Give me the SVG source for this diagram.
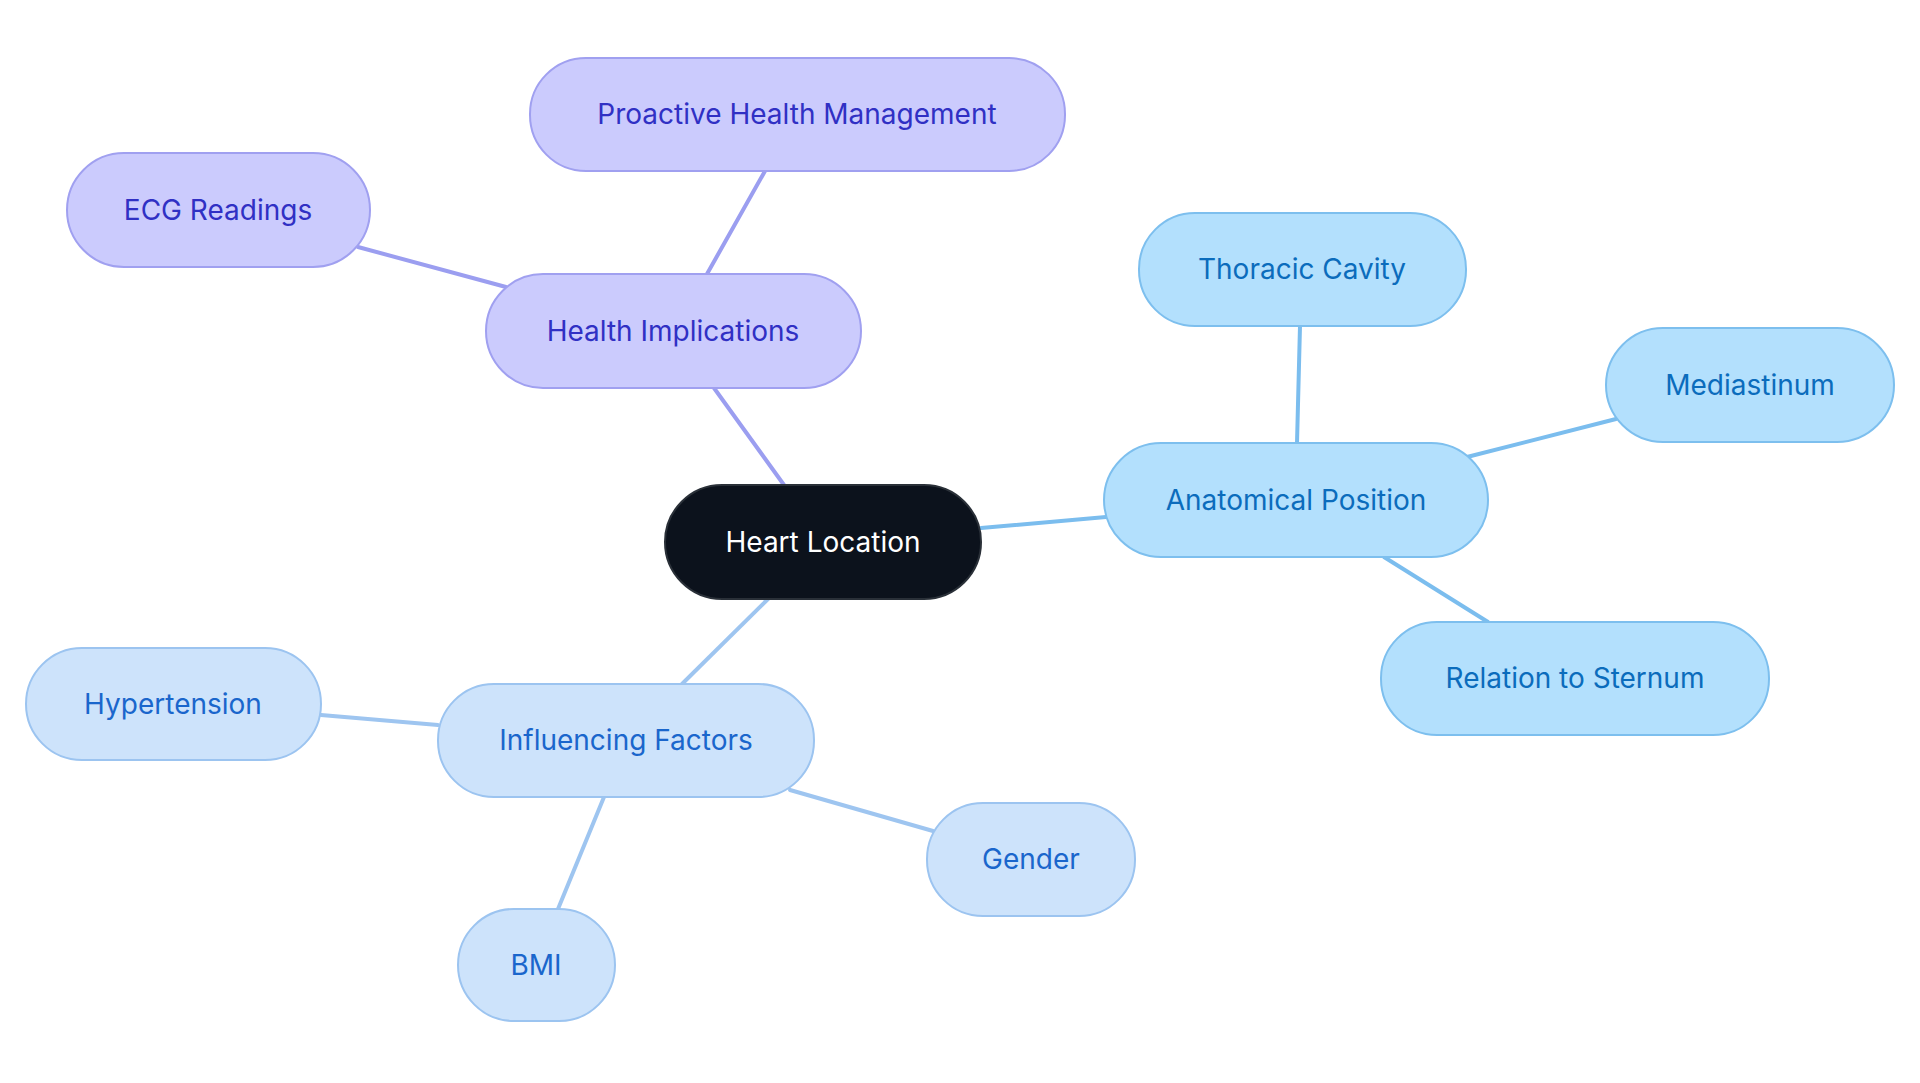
<svg xmlns="http://www.w3.org/2000/svg" width="1920" height="1083" viewBox="0 0 1920 1083">
<style>
text{font-family:Inter,"Noto Sans",sans-serif;font-size:28px;text-anchor:middle;dominant-baseline:central}
.p rect{fill:#cbcbfd;stroke:#a0a0f0;stroke-width:2}.p text{fill:#3030c4}
.b rect{fill:#b3e0fd;stroke:#7dbfee;stroke-width:2}.b text{fill:#0b6cbc}
.l rect{fill:#cde3fb;stroke:#9cc4f0;stroke-width:2}.l text{fill:#1a66cc}
.c line{stroke-width:4;stroke-linecap:round}
</style>
<rect width="1920" height="1083" fill="#fff"/>
<g class="c">
<line x1="784" y1="485" x2="714" y2="388" stroke="#9b9ef0"/>
<line x1="707" y1="274" x2="765" y2="171" stroke="#9b9ef0"/>
<line x1="506" y1="287" x2="358" y2="247" stroke="#9b9ef0"/>
<line x1="981" y1="528" x2="1106" y2="517" stroke="#7bbdee"/>
<line x1="1297" y1="443" x2="1300" y2="326" stroke="#7bbdee"/>
<line x1="1467" y1="457" x2="1616" y2="419" stroke="#7bbdee"/>
<line x1="1384" y1="557" x2="1488" y2="622" stroke="#7bbdee"/>
<line x1="768" y1="599" x2="682" y2="684" stroke="#9ec5f0"/>
<line x1="438" y1="725" x2="321" y2="715" stroke="#9ec5f0"/>
<line x1="790" y1="790" x2="933" y2="831" stroke="#9ec5f0"/>
<line x1="604" y1="797" x2="558" y2="909" stroke="#9ec5f0"/>
</g>
<g id="heart"><rect x="665" y="485" width="316" height="114" rx="57" fill="#0c121c" stroke="#2a3038" stroke-width="2"/><text x="823" y="542" fill="#fff">Heart Location</text></g>
<g id="anat" class="b"><rect x="1104" y="443" width="384" height="114" rx="57"/><text x="1296" y="500">Anatomical Position</text></g>
<g id="thor" class="b"><rect x="1139" y="213" width="327" height="113" rx="56"/><text x="1302" y="269">Thoracic Cavity</text></g>
<g id="medi" class="b"><rect x="1606" y="328" width="288" height="114" rx="57"/><text x="1750" y="385">Mediastinum</text></g>
<g id="ster" class="b"><rect x="1381" y="622" width="388" height="113" rx="56"/><text x="1575" y="678">Relation to Sternum</text></g>
<g id="health" class="p"><rect x="486" y="274" width="375" height="114" rx="57"/><text x="673" y="331">Health Implications</text></g>
<g id="proa" class="p"><rect x="530" y="58" width="535" height="113" rx="56"/><text x="797" y="114">Proactive Health Management</text></g>
<g id="ecg" class="p"><rect x="67" y="153" width="303" height="114" rx="57"/><text x="218" y="210">ECG Readings</text></g>
<g id="infl" class="l"><rect x="438" y="684" width="376" height="113" rx="56"/><text x="626" y="740">Influencing Factors</text></g>
<g id="hyp" class="l"><rect x="26" y="648" width="295" height="112" rx="56"/><text x="173" y="704">Hypertension</text></g>
<g id="gen" class="l"><rect x="927" y="803" width="208" height="113" rx="56"/><text x="1031" y="859">Gender</text></g>
<g id="bmi" class="l"><rect x="458" y="909" width="157" height="112" rx="56"/><text x="536" y="965">BMI</text></g>
</svg>
